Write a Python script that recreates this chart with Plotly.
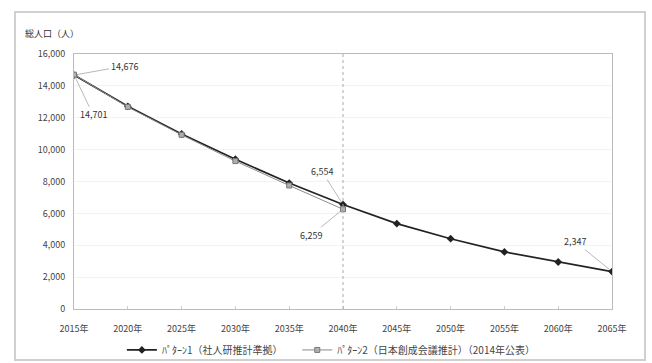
import plotly.graph_objects as go

years = [2015, 2020, 2025, 2030, 2035, 2040, 2045, 2050, 2055, 2060, 2065]
year_labels = [f"{y}年" for y in years]
pattern1 = [14676, 12720, 10980, 9400, 7900, 6554, 5360, 4410, 3580, 2950, 2347]
years2 = [2015, 2020, 2025, 2030, 2035, 2040]
pattern2 = [14701, 12680, 10930, 9280, 7750, 6259]
name1 = "ﾊﾟﾀｰﾝ1（社人研推計準拠）"
name2 = "ﾊﾟﾀｰﾝ2（日本創成会議推計）（2014年公表）"
y_ticks = [0, 2000, 4000, 6000, 8000, 10000, 12000, 14000, 16000]

FONT = "Noto Sans CJK JP"

fig = go.Figure()
fig.add_trace(go.Scatter(
    x=years, y=pattern1, name=name1, mode="lines+markers", legend="legend",
    line=dict(color="#222222", width=1.7),
    marker=dict(symbol="diamond", size=6, color="#222222"),
))
fig.add_trace(go.Scatter(
    x=years2, y=pattern2, name=name2, mode="lines+markers", legend="legend2",
    line=dict(color="#8a8a8a", width=1),
    marker=dict(symbol="square", size=5, color="#b0b0b0",
                line=dict(color="#777777", width=1)),
))

# vertical dotted reference line at 2040
fig.add_shape(type="line", xref="x", yref="paper", x0=2040, x1=2040, y0=0, y1=1,
              line=dict(color="#aaaaaa", width=1, dash="dot"))

# outer frame
fig.add_shape(type="rect", xref="paper", yref="paper",
              x0=-0.1097, x1=1.0613, y0=-0.2, y1=1.1647,
              line=dict(color="#d0d0d0", width=2))

def label(x, y, text, ax, ay):
    fig.add_annotation(x=x, y=y, text=text, showarrow=True, arrowhead=0,
                       arrowwidth=0.7, arrowcolor="#999999", ax=ax, ay=ay,
                       standoff=3, font=dict(family=FONT, size=9, color="#333333"))

label(2015, pattern1[0], f"{pattern1[0]:,}", 50, -9)
label(2015, pattern2[0], f"{pattern2[0]:,}", 19, 40)
label(2040, pattern1[5], f"{pattern1[5]:,}", -21, -33)
label(2040, pattern2[5], f"{pattern2[5]:,}", -32, 26)
label(2065, pattern1[10], f"{pattern1[10]:,}", -37, -30)

fig.add_annotation(xref="paper", yref="paper", x=-0.0948, y=1.082,
                   xanchor="left", yanchor="middle", showarrow=False,
                   text="総人口（人）", font=dict(family=FONT, size=9, color="#333333"))

legend_common = dict(orientation="h", xanchor="left",
                     yref="container", y=0.036, yanchor="middle",
                     font=dict(family=FONT, size=10, color="#444444"),
                     itemwidth=30, bgcolor="rgba(0,0,0,0)")

fig.update_layout(
    width=652, height=363,
    margin=dict(l=74, r=40, t=54, b=54, autoexpand=False),
    paper_bgcolor="white", plot_bgcolor="white",
    font=dict(family=FONT, size=9, color="#444444"),
    showlegend=True,
    legend=dict(x=0.089, **legend_common),
    legend2=dict(x=0.415, **legend_common),
    xaxis=dict(range=[2015, 2065], tickvals=years, ticktext=year_labels,
               automargin=False,
               showgrid=False, zeroline=False, showline=True, linecolor="#bbbbbb",
               linewidth=1, mirror=True, ticks="inside", ticklen=3, tickcolor="#cccccc",
               ticklabelstandoff=11,
               tickfont=dict(family=FONT, size=9, color="#444444")),
    yaxis=dict(range=[0, 16000], tickvals=y_ticks, tickformat=",d",
               automargin=False,
               showgrid=True, gridcolor="#f3f3f3", zeroline=False,
               showline=True, linecolor="#bbbbbb", linewidth=1, mirror=True,
               ticklabelstandoff=6,
               tickfont=dict(family=FONT, size=9, color="#444444")),
)

fig.write_html("out.html")
